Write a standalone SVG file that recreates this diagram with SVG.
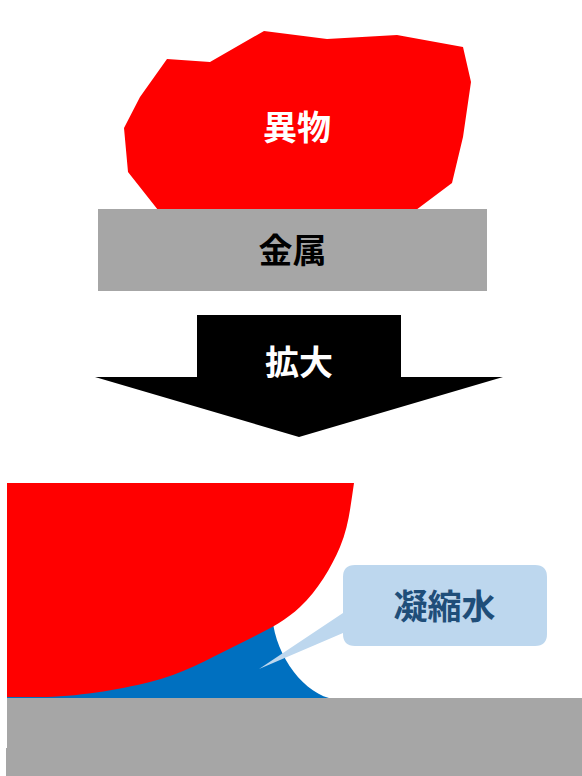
<svg xmlns="http://www.w3.org/2000/svg" width="582" height="776" viewBox="0 0 582 776">
<style>
.lbl{font-family:"Noto Sans CJK JP","Noto Sans CJK SC",sans-serif;font-weight:bold;font-size:34px;text-anchor:middle}
.red{fill:#FF0000}
.grey{fill:#A6A6A6}
</style>
<g id="foreign-matter">
<polygon class="red" points="167,59 210,62 264,31 327,39 397,35 463,47 471,82 463,137 452,183 420,207 416,210 158,210 128,172 124,128 140,97"/>
<text class="lbl" x="297" y="140" fill="#FFFFFF">異物</text>
</g>
<g id="metal">
<rect class="grey" x="98" y="209" width="389" height="82"/>
<text class="lbl" x="292.5" y="263" fill="#000000">金属</text>
</g>
<g id="enlarge-arrow">
<polygon points="197,315 401,315 401,377 503,377 299,437 95,377 197,377" fill="#000000"/>
<text class="lbl" x="299" y="375" fill="#FFFFFF">拡大</text>
</g>
<g id="enlarged-view">
<path d="M7,698 V610 H272 C272,650 300,690 329,698 Z" fill="#0070C0"/>
<path class="red" d="M7,483 H354 C350.7,504 349,526 340,547 C331,568 318,590 300,607 C282,624 258,634.5 233,647 C208,659.5 182,674 150,682 C118,690 75,697 40,697 L7,697 Z"/>
<rect class="grey" x="7" y="698" width="575" height="50"/>
<rect class="grey" x="6" y="748" width="576" height="28"/>
</g>
<g id="callout">
<path d="M355,565 H535 Q547,565 547,577 V634 Q547,646 535,646 H355 Q343,646 343,634 V633 L259,669 L343,613 V577 Q343,565 355,565 Z" fill="#BDD7EE"/>
<text class="lbl" x="444.5" y="619" fill="#1F4E79">凝縮水</text>
</g>
</svg>
